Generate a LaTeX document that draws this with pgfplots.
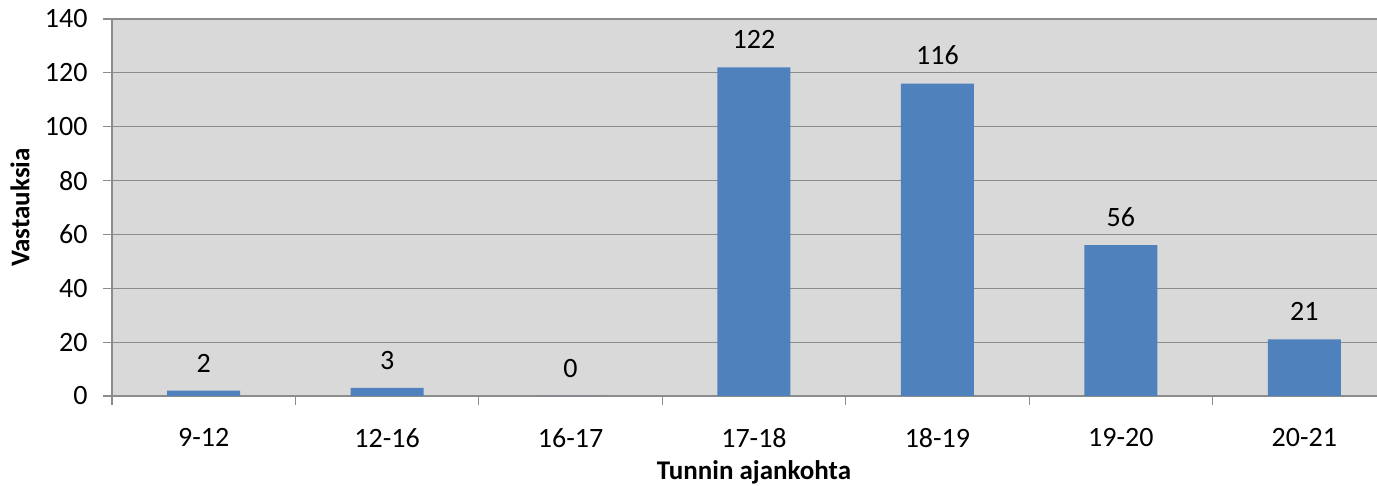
\documentclass[border=0pt]{standalone}
\usepackage{pgfplots}
\pgfplotsset{compat=1.18}
\usepackage{fontspec}
\setmainfont{Carlito}
\definecolor{barblue}{HTML}{4F81BD}
\definecolor{bggray}{HTML}{D9D9D9}
\definecolor{gridgray}{HTML}{8C8C8C}
\begin{document}
\fontsize{28}{32}\selectfont
\begin{tikzpicture}[x=1pt,y=1pt]
\useasboundingbox (-112,-90) rectangle (1265,396);
\begin{axis}[
  at={(0,0)}, anchor=south west,
  scale only axis, width=1284pt, height=377pt,
  ybar, bar width=73pt,
  xmin=-0.5, xmax=6.5, ymin=0, ymax=140,
  ytick={0,20,...,140},
  xtick={0,...,6},
  xticklabels={9-12,12-16,16-17,17-18,18-19,19-20,20-21},
  minor xtick={-0.5,0.5,...,6.5},
  major x tick style={draw=none},
  minor tick length=9pt,
  major tick length=9pt,
  tick align=outside,
  tick pos=left,
  axis background/.style={fill=bggray},
  axis x line*=bottom, axis y line*=left,
  axis line style={gridgray, line width=1.2pt},
  every tick/.style={gridgray, line width=1.2pt},
  ymajorgrids, grid style={gridgray, line width=1.2pt},
  /pgf/number format/assume math mode=true,
  ticklabel style={font=\fontsize{28}{32}\selectfont},
  yticklabel style={xshift=-6pt},
  xticklabel style={yshift=-14pt},
  xlabel={\textbf{Tunnin ajankohta}},
  ylabel={\textbf{Vastauksia}},
  label style={font=\fontsize{27}{31}\selectfont},
  xlabel style={at={(axis description cs:0,0)}, anchor=center, xshift=642pt, yshift=-76pt},
  ylabel style={at={(axis description cs:-0.0717,0.5)}, anchor=center},
  nodes near coords,
  nodes near coords style={font=\fontsize{28}{32}\selectfont, anchor=south, yshift=9pt, /pgf/number format/assume math mode=true},
  clip=false,
]
\addplot[fill=barblue, draw=none] coordinates {(0,2) (1,3) (2,0) (3,122) (4,116) (5,56) (6,21)};
\end{axis}
\end{tikzpicture}
\end{document}
